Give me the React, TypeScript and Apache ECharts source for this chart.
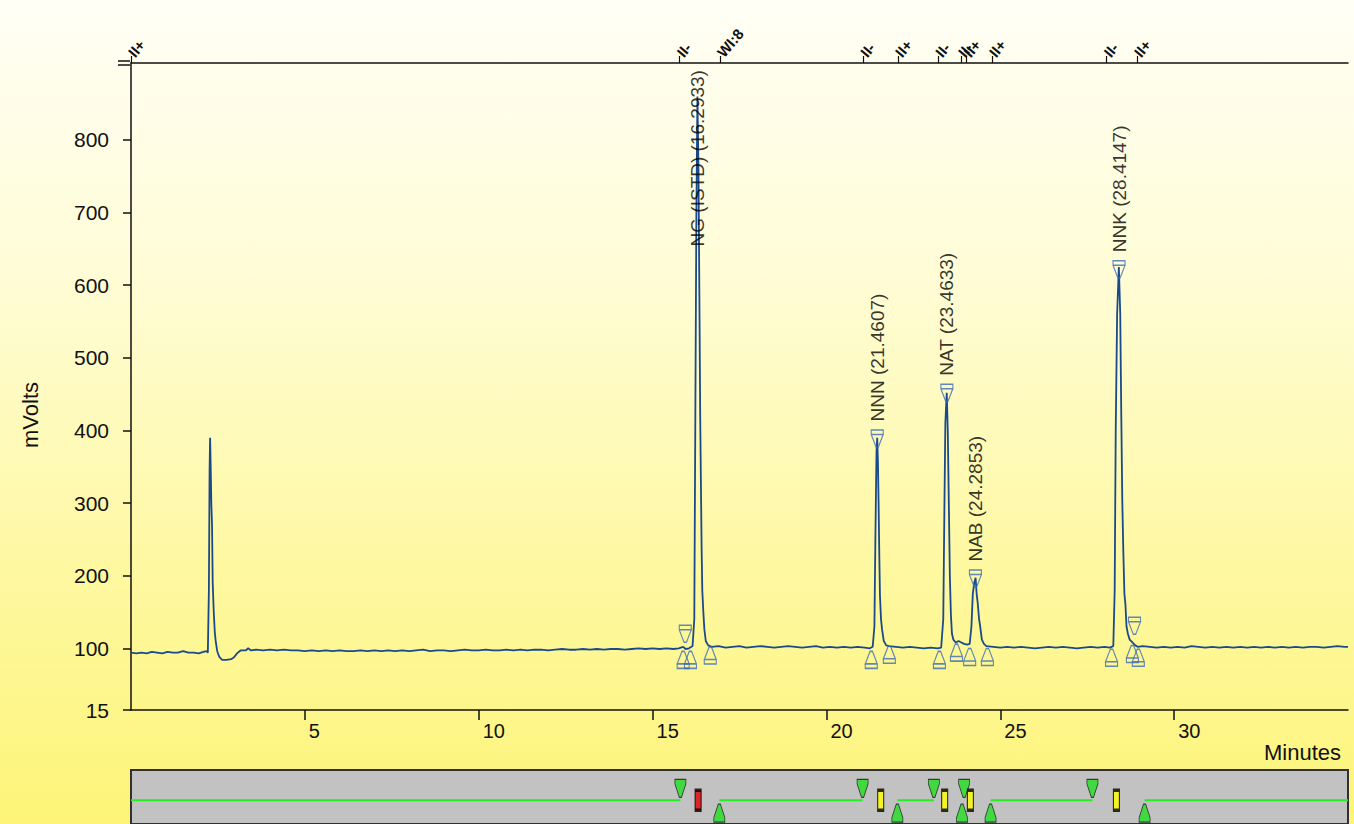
import React, { useEffect, useRef } from "react";
import * as echarts from "echarts";

// ---- axis ticks ----
const yTickValues = [15, 100, 200, 300, 400, 500, 600, 700, 800];
const xMin = 0;
const xMax = 35;
const yMin = 15;
const yMax = 906;

// ---- event table (top axis) ----
const eventTimes = [0, 15.78, 16.94, 21.06, 22.06, 23.22, 23.87, 24.03, 24.76, 28.06, 28.93];
const eventLabels = ["II+", "II-", "WI:8", "II-", "II+", "II-", "II-", "II+", "II+", "II-", "II+"];

// ---- detector trace (minutes, mVolts) ----
const trace: [number, number][] = [
  [0, 94], [0.15, 93], [0.3, 94], [0.45, 93], [0.6, 95], [0.75, 94], [0.9, 93], [1.05, 95], [1.2, 94], [1.35, 94],
  [1.5, 96], [1.65, 94], [1.8, 94], [1.95, 93], [2.08, 95], [2.17, 96], [2.21, 94],
  [2.24, 180], [2.26, 345], [2.275, 390], [2.29, 355], [2.31, 300], [2.33, 270], [2.35, 190], [2.38, 150],
  [2.41, 122], [2.44, 108], [2.48, 96], [2.54, 88], [2.62, 84], [2.75, 84], [2.88, 85], [2.97, 88], [3.05, 93],
  [3.15, 97], [3.3, 97], [3.37, 100], [3.45, 97],
  [3.6, 98], [3.8, 97], [4.0, 98], [4.2, 97], [4.4, 98], [4.6, 97], [4.8, 97], [5.0, 96], [5.2, 97], [5.4, 96],
  [5.6, 97], [5.8, 96], [6.0, 97], [6.2, 96], [6.4, 96], [6.6, 97], [6.8, 96], [7.0, 97], [7.2, 96], [7.4, 97],
  [7.6, 96], [7.8, 97], [8.0, 96], [8.2, 97], [8.4, 98], [8.6, 96], [8.8, 97], [9.0, 97], [9.2, 96], [9.4, 97],
  [9.6, 98], [9.8, 97], [10.0, 97], [10.2, 98], [10.4, 97], [10.6, 97], [10.8, 98], [11.0, 97], [11.2, 98],
  [11.4, 97], [11.6, 98], [11.8, 98], [12.0, 97], [12.2, 98], [12.4, 99], [12.6, 98], [12.8, 98], [13.0, 99],
  [13.2, 98], [13.4, 99], [13.6, 98], [13.8, 99], [14.0, 99], [14.2, 98], [14.4, 99], [14.6, 100], [14.8, 99],
  [15.0, 100], [15.2, 99], [15.4, 100], [15.6, 99], [15.75, 100], [15.88, 102], [15.95, 99], [16.05, 100], [16.15, 103],
  [16.2, 140], [16.23, 420], [16.26, 700], [16.29, 860], [16.32, 760], [16.35, 560], [16.37, 420], [16.39, 330],
  [16.41, 240], [16.43, 180], [16.46, 150], [16.49, 126], [16.53, 110], [16.6, 104], [16.7, 102],
  [16.9, 103], [17.1, 101], [17.3, 102], [17.5, 103], [17.7, 101], [17.9, 102], [18.1, 103], [18.3, 102],
  [18.5, 101], [18.7, 102], [18.9, 103], [19.1, 102], [19.3, 101], [19.5, 102], [19.7, 103], [19.9, 101],
  [20.1, 102], [20.3, 101], [20.5, 102], [20.7, 101], [20.9, 102], [21.1, 101], [21.25, 100], [21.33, 102],
  [21.38, 130], [21.41, 260], [21.44, 370], [21.46, 390], [21.48, 360], [21.5, 300], [21.52, 230], [21.54, 172],
  [21.57, 140], [21.6, 126], [21.65, 110], [21.72, 104], [21.8, 103],
  [22.0, 102], [22.2, 101], [22.4, 102], [22.6, 101], [22.8, 100], [23.0, 101], [23.2, 100], [23.3, 101],
  [23.36, 140], [23.39, 280], [23.42, 410], [23.46, 452], [23.49, 400], [23.52, 300], [23.55, 200], [23.58, 146],
  [23.61, 120], [23.65, 112], [23.72, 108], [23.8, 110], [23.88, 108], [23.96, 106], [24.05, 105], [24.12, 106],
  [24.17, 130], [24.21, 175], [24.25, 190], [24.29, 197], [24.32, 175], [24.35, 163], [24.39, 140], [24.42, 131],
  [24.47, 112], [24.53, 106], [24.6, 103],
  [24.8, 102], [25.0, 101], [25.2, 102], [25.4, 101], [25.6, 102], [25.8, 101], [26.0, 100], [26.2, 101],
  [26.4, 102], [26.6, 101], [26.8, 102], [27.0, 101], [27.2, 100], [27.4, 101], [27.6, 102], [27.8, 101],
  [28.0, 102], [28.15, 101], [28.25, 103],
  [28.29, 180], [28.32, 400], [28.36, 560], [28.41, 625], [28.45, 560], [28.48, 420], [28.51, 300], [28.54, 230],
  [28.57, 175], [28.6, 160], [28.63, 130], [28.67, 120], [28.72, 112], [28.8, 108], [28.88, 104], [28.95, 102],
  [29.1, 103], [29.3, 102], [29.5, 101], [29.7, 102], [29.9, 101], [30.1, 102], [30.3, 101], [30.5, 103],
  [30.7, 102], [30.9, 101], [31.1, 102], [31.3, 101], [31.5, 102], [31.7, 101], [31.9, 102], [32.1, 101],
  [32.3, 102], [32.5, 101], [32.7, 102], [32.9, 101], [33.1, 102], [33.3, 101], [33.5, 102], [33.7, 101],
  [33.9, 102], [34.1, 102], [34.3, 101], [34.5, 102], [34.7, 103], [34.9, 102], [35, 102],
];

// ---- peak apex markers ----
const apexTimes = [15.94, 21.4607, 23.4633, 24.2853, 28.4147, 28.86];
const apexValues = [120, 389, 452, 196, 622, 131];

// ---- peak name labels ----
const peakTimes = [16.2933, 21.4607, 23.4633, 24.2853, 28.4147];
const peakLabelValues = [630, 389, 452, 196, 622];
const peakNames = ["NG (ISTD) (16.2933)", "NNN (21.4607)", "NAT (23.4633)", "NAB (24.2853)", "NNK (28.4147)"];

// ---- peak start / end markers ----
const boundTimes = [15.88, 16.09, 16.66, 21.29, 21.81, 23.25, 23.74, 24.12, 24.63, 28.2, 28.8, 28.97];
const boundValues = [84, 84, 90, 84, 91, 84, 94, 88, 88, 87, 92, 87];

// ---- timed events strip ----
const stripLine: (number | null)[][] = [
  [0, 0.44], [15.8, 0.44], [null, null], [16.92, 0.44], [21.04, 0.44], [null, null],
  [22.04, 0.44], [23.09, 0.44], [null, null], [24.72, 0.44], [27.65, 0.44], [null, null], [29.15, 0.44], [35, 0.44],
];
const stripDownTimes = [15.8, 21.04, 23.09, 23.96, 27.65];
const stripUpTimes = [16.92, 22.04, 23.9, 24.72, 29.15];
const stripBarTimes = [16.31, 21.56, 23.4, 24.14, 28.34];
const stripBarColors = ["#e00000", "#ffff00", "#ffff00", "#ffff00", "#ffff00"];

const FONT = "'Liberation Sans', Arial, sans-serif";
const markerPath = "path://M4,0L6,0L10,11L10,15L0,15L0,11L10,11L0,11Z";
const greenTri = "path://M0,0L10,0L10,4L6,16L4,16L0,4Z";

export default function App() {
  const ref = useRef<HTMLDivElement>(null);
  useEffect(() => {
    if (!ref.current) return;
    const chart = echarts.init(ref.current, undefined, { renderer: "svg" });
    const option: any = {
      animation: false,
      backgroundColor: "transparent",
      grid: [
        { left: 131, right: 6, top: 63, bottom: 114 },
        {
          left: 131, right: 6, top: 770, bottom: 0, show: true,
          backgroundColor: "#c2c2c2", borderColor: "#303030", borderWidth: 2,
        },
      ],
      xAxis: [
        {
          type: "value", gridIndex: 0, min: xMin, max: xMax, interval: 5, position: "bottom",
          axisLine: { show: true, onZero: false, lineStyle: { color: "#111", width: 1.5 } },
          axisTick: { show: true, length: 10, lineStyle: { color: "#111", width: 1.5 } },
          axisLabel: {
            showMinLabel: false, showMaxLabel: false, align: "left", margin: 11,
            color: "#111", fontSize: 20, fontFamily: FONT, padding: [0, 0, 0, 4],
          },
          splitLine: { show: false },
        },
        {
          type: "value", gridIndex: 0, min: xMin, max: xMax, position: "top",
          axisLine: { show: true, onZero: false, lineStyle: { color: "#111", width: 1.5 } },
          axisTick: { show: true, length: 7, customValues: eventTimes, lineStyle: { color: "#111", width: 1.2 } },
          axisLabel: {
            show: true, customValues: eventTimes, rotate: -50, margin: 8, align: "left", verticalAlign: "middle",
            color: "#111", fontSize: 15, fontFamily: FONT, fontWeight: "bold", padding: [0, 0, 0, 0],
            formatter: (v: number) => {
              const i = eventTimes.indexOf(v);
              return i >= 0 ? eventLabels[i] : "";
            },
          },
          splitLine: { show: false },
        },
        { type: "value", gridIndex: 1, min: xMin, max: xMax, show: false },
      ],
      yAxis: [
        {
          type: "value", gridIndex: 0, min: yMin, max: yMax,
          axisLine: { show: true, onZero: false, lineStyle: { color: "#111", width: 1.5 } },
          axisTick: { show: true, length: 8, customValues: yTickValues, lineStyle: { color: "#111", width: 1.5 } },
          axisLabel: {
            customValues: yTickValues, margin: 22, color: "#111", fontSize: 21, fontFamily: FONT,
          },
          splitLine: { show: false },
        },
        { type: "value", gridIndex: 1, min: 0, max: 1, show: false },
      ],
      series: [
        {
          type: "line", xAxisIndex: 0, yAxisIndex: 0, data: trace, showSymbol: false,
          lineStyle: { color: "#1a4a8c", width: 1.8 }, z: 3,
        },
        {
          type: "scatter", xAxisIndex: 0, yAxisIndex: 0,
          data: apexTimes.map((t, i) => [t, apexValues[i]]),
          symbol: markerPath, symbolSize: [12, 17], symbolRotate: 180,
          itemStyle: { color: "rgba(0,0,0,0)", borderColor: "#3a6cb6", borderWidth: 1.3 }, z: 4,
        },
        {
          type: "scatter", xAxisIndex: 0, yAxisIndex: 0,
          data: boundTimes.map((t, i) => [t, boundValues[i]]),
          symbol: markerPath, symbolSize: [12, 17],
          itemStyle: { color: "rgba(0,0,0,0)", borderColor: "#3a6cb6", borderWidth: 1.3 }, z: 4,
        },
        {
          type: "scatter", xAxisIndex: 0, yAxisIndex: 0,
          data: peakTimes.map((t, i) => ({ value: [t, peakLabelValues[i]], name: peakNames[i] })),
          symbolSize: 14, itemStyle: { color: "rgba(0,0,0,0)" },
          label: {
            show: true, position: "top", distance: 10, rotate: 90, align: "left", verticalAlign: "middle",
            formatter: (p: any) => p.name, color: "#000", fontSize: 19, fontFamily: FONT,
          },
          z: 5,
        },
        {
          type: "line", xAxisIndex: 2, yAxisIndex: 1, data: stripLine, showSymbol: false, connectNulls: false,
          lineStyle: { color: "#22ee22", width: 2 },
        },
        {
          type: "scatter", xAxisIndex: 2, yAxisIndex: 1,
          data: stripDownTimes.map((t) => [t, 0.66]),
          symbol: greenTri, symbolSize: [11, 18],
          itemStyle: { color: "#22dd22", borderColor: "#1a1a1a", borderWidth: 1 },
        },
        {
          type: "scatter", xAxisIndex: 2, yAxisIndex: 1,
          data: stripUpTimes.map((t) => [t, 0.2]),
          symbol: greenTri, symbolSize: [11, 18], symbolRotate: 180,
          itemStyle: { color: "#22dd22", borderColor: "#1a1a1a", borderWidth: 1 },
        },
        {
          type: "scatter", xAxisIndex: 2, yAxisIndex: 1,
          data: stripBarTimes.map((t, i) => ({ value: [t, 0.44], itemStyle: { color: stripBarColors[i] } })),
          symbol: "rect", symbolSize: [6, 20],
          itemStyle: { borderColor: "#000", borderWidth: 2 },
        },
      ],
      graphic: [
        { type: "line", shape: { x1: 118, y1: 61, x2: 130, y2: 61 }, style: { stroke: "#111", lineWidth: 1.5 } },
        { type: "line", shape: { x1: 118, y1: 65, x2: 130, y2: 65 }, style: { stroke: "#111", lineWidth: 1.5 } },
        {
          type: "text", x: 1341, y: 741,
          style: { text: "Minutes", fill: "#111", font: `22px ${FONT}`, align: "right", verticalAlign: "top" },
        },
        {
          type: "text", x: 30, y: 415, rotation: Math.PI / 2,
          style: { text: "mVolts", fill: "#111", font: `22px ${FONT}`, align: "center", verticalAlign: "middle" },
        },
      ],
    };
    chart.setOption(option);
    return () => chart.dispose();
  }, []);
  return (
    <div
      style={{
        position: "fixed", left: 0, top: 0, width: 1354, height: 824,
        background: "linear-gradient(to bottom, #fffff6 0%, #fffcd4 35%, #fef8a0 70%, #fdf478 100%)",
      }}
    >
      <div ref={ref} style={{ width: 1354, height: 824 }} />
    </div>
  );
}
